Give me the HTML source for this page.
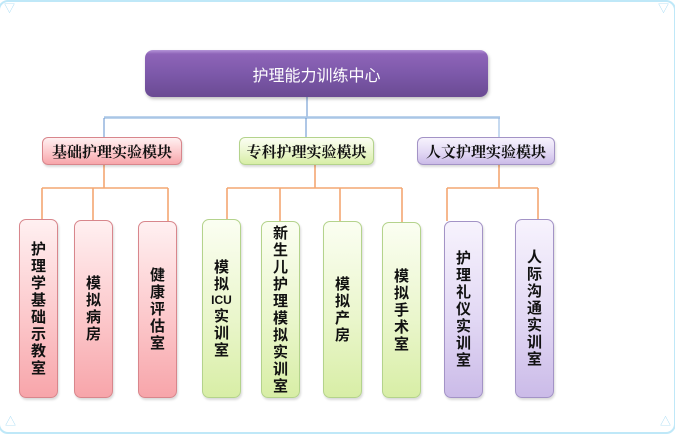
<!DOCTYPE html>
<html>
<head>
<meta charset="utf-8">
<style>
html,body{margin:0;padding:0;background:#fff;}
body{width:675px;height:435px;position:relative;overflow:hidden;font-family:"Liberation Sans","Noto Sans CJK SC",sans-serif;}
.frame{position:absolute;left:-2px;top:0px;width:674px;height:430px;border:2px solid #bfe8f8;border-radius:10px;}
.tri{position:absolute;color:#a8dcf4;font-size:11px;line-height:11px;}
.box{position:absolute;box-sizing:border-box;display:flex;align-items:center;justify-content:center;text-align:center;}
.top{left:145px;top:50px;width:343px;height:47px;border-radius:8px;
 background:linear-gradient(#b595d8 0px,#8e64b8 4px,#7d59aa 50%,#6a4a93 100%);
 box-shadow:1px 2px 3px rgba(0,0,0,0.25);color:#fff;font-size:16px;font-family:"Liberation Sans","Noto Sans CJK SC",sans-serif;}
.l2{top:137px;height:28px;border-radius:6px;font-size:15px;font-weight:bold;color:#111;
 font-family:"Liberation Serif","Noto Serif CJK SC",serif;box-shadow:1px 2px 2px rgba(0,0,0,0.15);}
.pink{background:linear-gradient(#fff0f1,#fcc8cb 55%,#f7a5aa);border:1px solid #d8868c;}
.green{background:linear-gradient(#fbfef2,#eaf6cc 55%,#d8eea6);border:1px solid #b4d38c;}
.purple{background:linear-gradient(#f7f3fd,#e2d8f4 55%,#cbbbe8);border:1px solid #a393c6;}
.ch{top:219px;height:179px;width:39px;border-radius:7px;flex-direction:column;font-size:15px;font-weight:bold;color:#111;
 font-family:"Liberation Sans","Noto Sans CJK SC",sans-serif;box-shadow:1px 2px 2px rgba(0,0,0,0.15);}
.ch span{display:block;line-height:17px;height:17px;}
.ch span.icu{font-size:12px;line-height:15px;height:15px;font-weight:bold;font-family:"Liberation Sans",sans-serif;}
</style>
</head>
<body>
<div class="frame"></div>
<div class="tri" style="left:4px;top:4px;">▽</div>
<div class="tri" style="left:658px;top:4px;">▽</div>
<div class="tri" style="left:5px;top:417px;">△</div>
<div class="tri" style="left:660px;top:417px;">△</div>

<svg width="675" height="435" style="position:absolute;left:0;top:0;">
  <line x1="307" y1="97" x2="307" y2="117" stroke="#5f8fcc" stroke-width="1"/>
  <line x1="104" y1="117.5" x2="500" y2="117.5" stroke="#a9c6e6" stroke-width="2.5"/>
  <line x1="104" y1="118" x2="104" y2="137" stroke="#5f8fcc" stroke-width="1"/>
  <line x1="306" y1="118" x2="306" y2="137" stroke="#5f8fcc" stroke-width="1"/>
  <line x1="499" y1="118" x2="499" y2="137" stroke="#8fb4e0" stroke-width="1"/>
  <g stroke="#f4a772" stroke-width="1.6" fill="none">
    <line x1="104" y1="165" x2="104" y2="188"/>
    <line x1="42" y1="188" x2="168" y2="188"/>
    <line x1="42" y1="188" x2="42" y2="219"/>
    <line x1="93" y1="188" x2="93" y2="220"/>
    <line x1="168" y1="188" x2="168" y2="221"/>
    <line x1="315" y1="165" x2="315" y2="188"/>
    <line x1="227" y1="188" x2="402" y2="188"/>
    <line x1="227" y1="188" x2="227" y2="219"/>
    <line x1="280" y1="188" x2="280" y2="221"/>
    <line x1="340" y1="188" x2="340" y2="221"/>
    <line x1="402" y1="188" x2="402" y2="222"/>
    <line x1="499" y1="165" x2="499" y2="188"/>
    <line x1="447" y1="188" x2="538" y2="188"/>
    <line x1="447" y1="188" x2="447" y2="221"/>
    <line x1="538" y1="188" x2="538" y2="219"/>
  </g>
</svg>

<div class="box top">护理能力训练中心</div>

<div class="box l2 pink" style="left:42px;width:140px;">基础护理实验模块</div>
<div class="box l2 green" style="left:239px;width:135px;">专科护理实验模块</div>
<div class="box l2 purple" style="left:417px;width:138px;">人文护理实验模块</div>

<div class="box ch pink" style="left:19px;"><span>护</span><span>理</span><span>学</span><span>基</span><span>础</span><span>示</span><span>教</span><span>室</span></div>
<div class="box ch pink" style="left:74px;top:220px;height:178px;"><span>模</span><span>拟</span><span>病</span><span>房</span></div>
<div class="box ch pink" style="left:138px;top:221px;height:177px;"><span>健</span><span>康</span><span>评</span><span>估</span><span>室</span></div>

<div class="box ch green" style="left:202px;"><span>模</span><span>拟</span><span class="icu">ICU</span><span>实</span><span>训</span><span>室</span></div>
<div class="box ch green" style="left:261px;top:221px;height:177px;"><span>新</span><span>生</span><span>儿</span><span>护</span><span>理</span><span>模</span><span>拟</span><span>实</span><span>训</span><span>室</span></div>
<div class="box ch green" style="left:323px;top:221px;height:177px;"><span>模</span><span>拟</span><span>产</span><span>房</span></div>
<div class="box ch green" style="left:382px;top:222px;height:176px;"><span>模</span><span>拟</span><span>手</span><span>术</span><span>室</span></div>

<div class="box ch purple" style="left:444px;top:221px;height:177px;"><span>护</span><span>理</span><span>礼</span><span>仪</span><span>实</span><span>训</span><span>室</span></div>
<div class="box ch purple" style="left:515px;"><span>人</span><span>际</span><span>沟</span><span>通</span><span>实</span><span>训</span><span>室</span></div>
</body>
</html>
